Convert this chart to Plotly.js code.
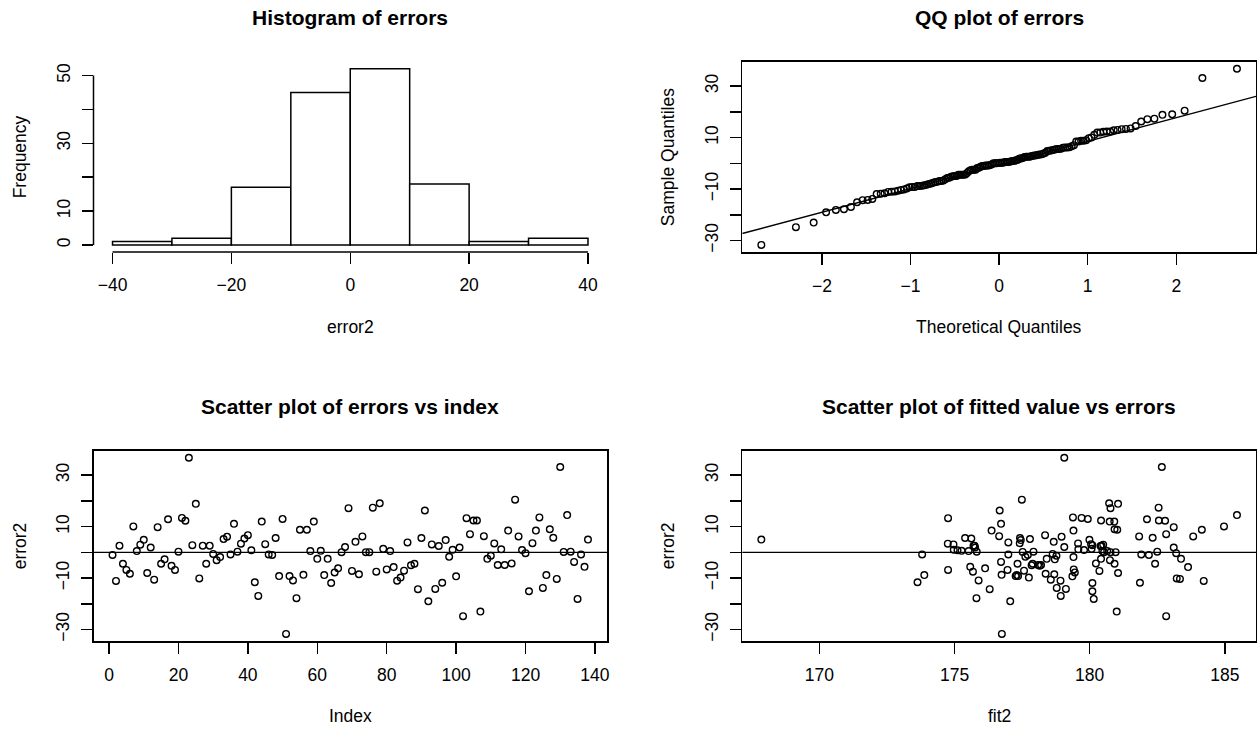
<!DOCTYPE html>
<html>
<head>
<meta charset="utf-8">
<script src="https://cdn.plot.ly/plotly-3.0.1.min.js"></script>
<style>
  html, body { margin: 0; padding: 0; background: #ffffff; }
  #plot { width: 1257px; height: 731px; }
</style>
</head>
<body>
<div id="plot"></div>
<script>
// Residuals of the model, in observation order
const error2 = [
  -1.0, -11.1, 2.6, -4.4, -6.8, -8.3, 10.1, 0.5, 3.0, 4.9,
  -8.0, 1.9, -10.6, 9.8, -4.4, -2.7, 12.9, -5.2, -6.8, 0.3,
  13.4, 12.3, 36.8, 2.8, 18.9, -10.1, 2.6, -4.4, 2.6, -0.6,
  -3.0, -1.8, 5.2, 6.1, -0.8, 11.1, 0.3, 3.4, 5.4, 6.7,
  0.8, -11.6, -16.9, 12.0, 3.2, -0.8, -1.0, 5.6, -9.2, 13.0,
  -31.7, -9.2, -10.9, -17.8, 8.8, -8.7, 8.8, 0.5, 12.0, -2.5,
  0.6, -8.8, -2.5, -11.9, -7.8, -6.2, 0.1, 2.1, 17.2, -7.2,
  4.1, -8.5, 6.2, 0.1, 0.1, 17.4, -7.5, 19.1, 1.4, -6.6,
  0.5, -5.7, -11.0, -9.8, -7.1, 3.9, -5.0, -4.4, -14.3, 5.6,
  16.3, -19.0, 3.1, -14.2, 2.5, -11.8, 4.8, -1.7, 1.0, -9.3,
  1.9, -24.8, 13.3, 7.1, 12.4, 12.4, -23.0, 6.3, -2.5, -1.3,
  3.5, -4.9, 1.2, -4.9, 8.5, -4.3, 20.5, 6.2, 0.9, -0.3,
  -15.1, 3.6, 8.5, 13.6, -13.8, -8.8, 9.0, 5.7, -10.3, 33.2,
  0.2, 14.5, 0.3, -3.7, -18.1, -0.8, -5.6, 5.0
];

// Fitted values, same order as error2
const fit2 = [
  182.19, 184.22, 175.74, 177.33, 174.76, 178.37, 184.97, 180.47, 180.50, 179.99,
  181.05, 175.76, 178.56, 183.11, 182.42, 178.71, 182.12, 178.15, 176.96, 182.50,
  179.70, 182.79, 179.06, 180.10, 181.05, 183.22, 180.44, 177.89, 175.70, 178.63,
  180.75, 179.40, 177.79, 178.96, 173.80, 176.72, 177.92, 174.75, 175.62, 178.35,
  175.11, 173.63, 178.93, 180.74, 180.05, 176.99, 177.71, 175.39, 177.26, 179.93,
  176.75, 177.35, 175.89, 175.81, 181.02, 176.74, 184.15, 180.65, 180.91, 178.41,
  175.26, 173.88, 180.42, 180.10, 179.45, 176.13, 180.53, 179.06, 180.77, 180.36,
  178.67, 178.69, 181.83, 180.77, 180.96, 182.55, 175.68, 180.72, 180.07, 179.41,
  175.52, 183.64, 178.92, 177.75, 177.57, 176.99, 177.85, 180.92, 176.30, 177.42,
  176.67, 177.06, 174.96, 179.12, 180.40, 181.86, 177.45, 177.62, 174.97, 179.36,
  183.11, 182.83, 174.76, 182.83, 180.42, 182.56, 181.00, 176.65, 183.38, 178.77,
  179.57, 178.09, 179.58, 178.20, 176.37, 180.23, 177.49, 183.83, 179.79, 183.20,
  180.10, 177.41, 179.40, 179.38, 178.78, 177.30, 180.92, 182.33, 183.34, 182.67,
  177.52, 185.45, 175.82, 176.72, 180.15, 181.91, 175.58, 167.85
];

// Histogram breaks
const histBreaks = [-40, -30, -20, -10, 0, 10, 20, 30, 40];

// Tick positions and labels
const histXTicks = [-40, -20, 0, 20, 40];
const histXLabels = ['\u221240', '\u221220', '0', '20', '40'];
const histYTicks = [0, 10, 20, 30, 40, 50];
const histYLabels = ['0', '10', '', '30', '', '50'];
const errTicks = [-30, -20, -10, 0, 10, 20, 30];
const errLabels = ['\u221230', '', '\u221210', '', '10', '', '30'];
const qqXTicks = [-2, -1, 0, 1, 2];
const qqXLabels = ['\u22122', '\u22121', '0', '1', '2'];
const indexTicks = [0, 20, 40, 60, 80, 100, 120, 140];
const fitTicks = [170, 175, 180, 185];

// Titles
const titles = ['Histogram of errors', 'QQ plot of errors',
                'Scatter plot of errors vs index', 'Scatter plot of fitted value vs errors'];
const xTitles = ['error2', 'Theoretical Quantiles', 'Index', 'fit2'];
const yTitles = ['Frequency', 'Sample Quantiles', 'error2', 'error2'];

// ---------- helpers ----------
// inverse of the standard normal CDF (Acklam's rational approximation)
function qnorm(p) {
  const a = [-3.969683028665376e+01, 2.209460984245205e+02, -2.759285104469687e+02,
             1.383577518672690e+02, -3.066479806614716e+01, 2.506628277459239e+00];
  const b = [-5.447609879822406e+01, 1.615858368580409e+02, -1.556989798598866e+02,
             6.680131188771972e+01, -1.328068155288572e+01];
  const c = [-7.784894002430293e-03, -3.223964580411365e-01, -2.400758277161838e+00,
             -2.549671010286523e+00, 4.374664141464968e+00, 2.938163982698783e+00];
  const d = [7.784695709041462e-03, 3.224671290700398e-01, 2.445134137142996e+00,
             3.754408661907416e+00];
  const pl = 0.02425, ph = 1 - pl;
  let q, r;
  if (p < pl) {
    q = Math.sqrt(-2 * Math.log(p));
    return (((((c[0]*q+c[1])*q+c[2])*q+c[3])*q+c[4])*q+c[5]) / ((((d[0]*q+d[1])*q+d[2])*q+d[3])*q+1);
  }
  if (p > ph) {
    q = Math.sqrt(-2 * Math.log(1 - p));
    return -(((((c[0]*q+c[1])*q+c[2])*q+c[3])*q+c[4])*q+c[5]) / ((((d[0]*q+d[1])*q+d[2])*q+d[3])*q+1);
  }
  q = p - 0.5; r = q * q;
  return (((((a[0]*r+a[1])*r+a[2])*r+a[3])*r+a[4])*r+a[5])*q / (((((b[0]*r+b[1])*r+b[2])*r+b[3])*r+b[4])*r+1);
}
function quantile7(sorted, p) {
  const h = (sorted.length - 1) * p, lo = Math.floor(h);
  const hi = Math.min(lo + 1, sorted.length - 1);
  return sorted[lo] + (h - lo) * (sorted[hi] - sorted[lo]);
}
function padRange(lo, hi) {
  const d = (hi - lo) * 0.04;
  return [lo - d, hi + d];
}
const minOf = arr => Math.min.apply(null, arr);
const maxOf = arr => Math.max.apply(null, arr);

// ---------- derived series ----------
const n = error2.length;
const index = error2.map((_, i) => i + 1);
const sortedErr = error2.slice().sort((p, q) => p - q);
const theo = sortedErr.map((_, i) => qnorm((i + 1 - 0.5) / n));
const z1 = qnorm(0.25), z2 = qnorm(0.75);
const y1 = quantile7(sortedErr, 0.25), y2 = quantile7(sortedErr, 0.75);
const qqSlope = (y2 - y1) / (z2 - z1);
const qqIntercept = y1 - qqSlope * z1;

const errRange = padRange(minOf(error2), maxOf(error2));
const qqXRange = padRange(minOf(theo), maxOf(theo));
const idxRange = padRange(1, n);
const fitRange = padRange(minOf(fit2), maxOf(fit2));
const histXRange = padRange(histBreaks[0], histBreaks[histBreaks.length - 1]);
const histYRange = padRange(0, 52);
const qqLineX = qqXRange.slice();
const qqLineY = qqLineX.map(x => qqIntercept + qqSlope * x);

// ---------- panel geometry (pixels) ----------
const W = 1257, H = 731;
const colL = [93.5, 607], colR = [742.3, 1256];
const rowT = [61.7, 252], rowB = [450.7, 641];
const dx = c => [c[0] / W, c[1] / W];
const dy = r => [(H - r[1]) / H, (H - r[0]) / H];

const INK = '#000000';
const FONT = 'Liberation Sans, Arial, Helvetica, sans-serif';
const TICKFONT = { family: FONT, size: 17.5, color: INK };

function xAxis(domain, anchor, range, vals, text, boxed) {
  return {
    domain: domain, anchor: anchor, range: range, autorange: false,
    tickmode: 'array', tickvals: vals, ticktext: text,
    ticks: 'outside', ticklen: 11, tickwidth: 1.5, tickcolor: INK,
    ticklabelstandoff: 6,
    showgrid: false, zeroline: false,
    showline: boxed, mirror: boxed, linecolor: INK, linewidth: 1.5,
    tickfont: TICKFONT, fixedrange: true
  };
}
function yAxis(domain, anchor, range, vals, text, boxed) {
  return {
    domain: domain, anchor: anchor, range: range, autorange: false,
    tickmode: 'array', tickvals: vals, ticktext: text, tickangle: -90,
    ticks: 'outside', ticklen: 11, tickwidth: 1.5, tickcolor: INK,
    ticklabelstandoff: 5,
    showgrid: false, zeroline: false,
    showline: boxed, mirror: boxed, linecolor: INK, linewidth: 1.5,
    tickfont: TICKFONT, fixedrange: true
  };
}

const openCircle = {
  symbol: 'circle-open', size: 6.6, color: INK, line: { color: INK, width: 1.4 }
};

const traces = [
  {
    type: 'histogram', x: error2, xaxis: 'x', yaxis: 'y',
    xbins: { start: histBreaks[0], end: histBreaks[histBreaks.length - 1], size: histBreaks[1] - histBreaks[0] },
    marker: { color: '#ffffff', line: { color: INK, width: 1.5 } },
    hoverinfo: 'skip'
  },
  {
    type: 'scatter', mode: 'lines', x: qqLineX, y: qqLineY, xaxis: 'x2', yaxis: 'y2',
    line: { color: INK, width: 1.4 }, hoverinfo: 'skip'
  },
  {
    type: 'scatter', mode: 'markers', x: theo, y: sortedErr, xaxis: 'x2', yaxis: 'y2',
    marker: openCircle, cliponaxis: false
  },
  {
    type: 'scatter', mode: 'markers', x: index, y: error2, xaxis: 'x3', yaxis: 'y3',
    marker: openCircle
  },
  {
    type: 'scatter', mode: 'markers', x: fit2, y: error2, xaxis: 'x4', yaxis: 'y4',
    marker: openCircle
  }
];

const shapes = [
  // histogram axis lines, spanning first to last tick
  { type: 'line', xref: 'x', yref: 'y domain', x0: histXTicks[0], x1: histXTicks[histXTicks.length - 1],
    y0: 0, y1: 0, line: { color: INK, width: 1.5 } },
  { type: 'line', xref: 'x domain', yref: 'y', x0: 0, x1: 0,
    y0: histYTicks[0], y1: histYTicks[histYTicks.length - 1], line: { color: INK, width: 1.5 } },
  // horizontal reference lines at zero
  { type: 'line', xref: 'x3 domain', yref: 'y3', x0: 0, x1: 1, y0: 0, y1: 0,
    line: { color: INK, width: 1.4 } },
  { type: 'line', xref: 'x4 domain', yref: 'y4', x0: 0, x1: 1, y0: 0, y1: 0,
    line: { color: INK, width: 1.4 } }
];

const cols = [colL, colR, colL, colR];
const rows = [rowT, rowT, rowB, rowB];
const annotations = [];
for (let k = 0; k < 4; k++) {
  const cx = (cols[k][0] + cols[k][1]) / 2 / W;
  const cy = (rows[k][0] + rows[k][1]) / 2;
  annotations.push({
    text: titles[k], xref: 'paper', yref: 'paper', x: cx, y: (H - (rows[k][0] - 44)) / H,
    xanchor: 'center', yanchor: 'middle', showarrow: false,
    font: { family: FONT, size: 21, color: INK, weight: 'bold' }
  });
  annotations.push({
    text: xTitles[k], xref: 'paper', yref: 'paper', x: cx, y: (H - (rows[k][1] + 74.7)) / H,
    xanchor: 'center', yanchor: 'middle', showarrow: false,
    font: { family: FONT, size: 17.5, color: INK }
  });
  annotations.push({
    text: yTitles[k], xref: 'paper', yref: 'paper', x: (cols[k][0] - 74) / W, y: (H - cy) / H,
    xanchor: 'center', yanchor: 'middle', textangle: -90, showarrow: false,
    font: { family: FONT, size: 17.5, color: INK }
  });
}

const layout = {
  width: W, height: H,
  margin: { l: 0, r: 0, t: 0, b: 0 },
  paper_bgcolor: '#ffffff', plot_bgcolor: 'rgba(0,0,0,0)',
  showlegend: false, bargap: 0,
  font: { family: FONT, color: INK },
  xaxis: xAxis(dx(colL), 'y', histXRange, histXTicks, histXLabels, false),
  yaxis: yAxis(dy(rowT), 'x', histYRange, histYTicks, histYLabels, false),
  xaxis2: xAxis(dx(colR), 'y2', qqXRange, qqXTicks, qqXLabels, true),
  yaxis2: yAxis(dy(rowT), 'x2', errRange, errTicks, errLabels, true),
  xaxis3: xAxis(dx(colL), 'y3', idxRange, indexTicks, indexTicks.map(String), true),
  yaxis3: yAxis(dy(rowB), 'x3', errRange, errTicks, errLabels, true),
  xaxis4: xAxis(dx(colR), 'y4', fitRange, fitTicks, fitTicks.map(String), true),
  yaxis4: yAxis(dy(rowB), 'x4', errRange, errTicks, errLabels, true),
  shapes: shapes,
  annotations: annotations
};

Plotly.newPlot('plot', traces, layout, { displayModeBar: false, staticPlot: true });
</script>
</body>
</html>
